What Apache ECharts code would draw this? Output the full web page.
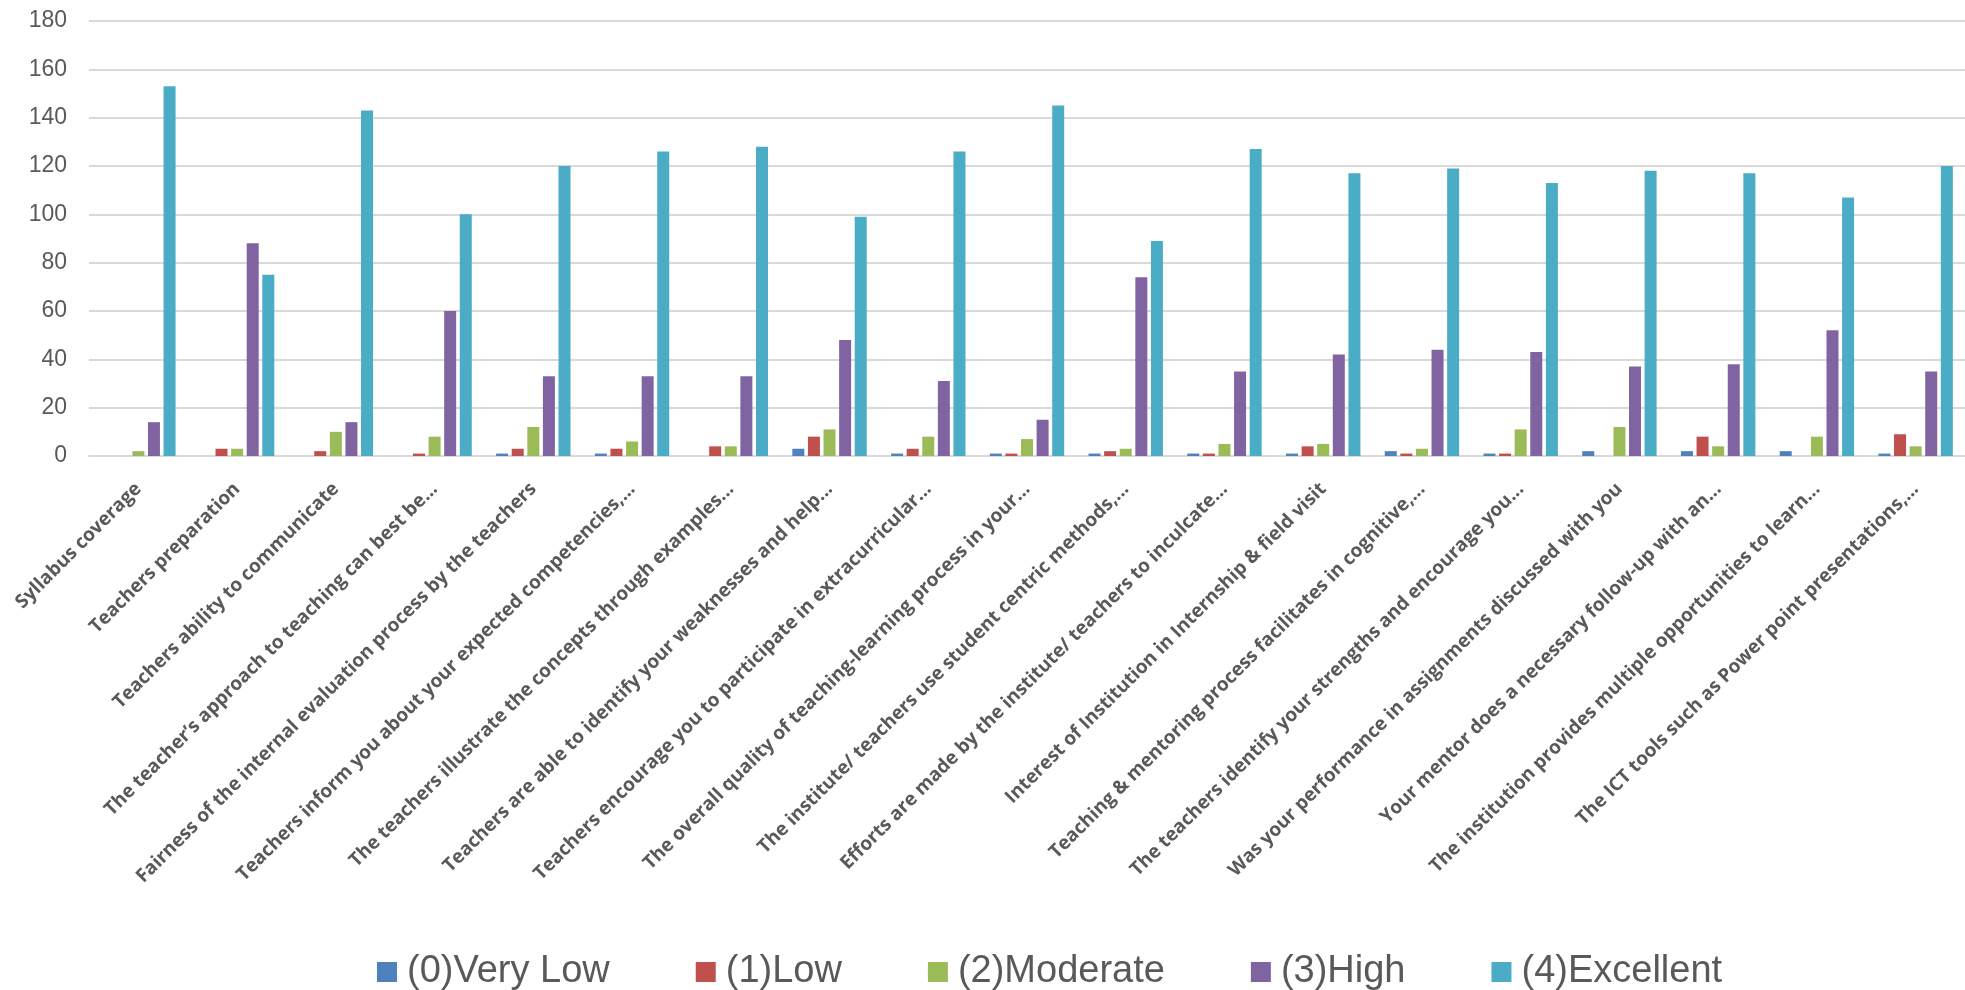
<!DOCTYPE html>
<html>
<head>
<meta charset="utf-8">
<script src="https://cdn.jsdelivr.net/npm/echarts@6/dist/echarts.min.js"></script>
<style>
html,body{margin:0;padding:0;background:#fff;}
#chart{width:1965px;height:990px;}
</style>
</head>
<body>
<div id="chart"></div>
<script>
const categories = [
  "Syllabus coverage",
  "Teachers preparation",
  "Teachers ability to communicate",
  "The teacher\u2019s approach to teaching can best be...",
  "Fairness of the internal evaluation process by the teachers",
  "Teachers inform you about your expected competencies,...",
  "The teachers illustrate the concepts through examples...",
  "Teachers are able to identify your weaknesses and help...",
  "Teachers encourage you to participate in extracurricular...",
  "The overall quality of teaching-learning process in your...",
  "The institute/ teachers use student centric methods,...",
  "Efforts are made by the institute/ teachers to inculcate...",
  "Interest of Institution in Internship & field visit",
  "Teaching & mentoring process facilitates in cognitive,...",
  "The teachers identify your strengths and encourage you...",
  "Was your performance in assignments discussed with you",
  "Your mentor does a necessary follow-up with an...",
  "The institution provides multiple opportunities to learn...",
  "The ICT tools such as Power point presentations,..."
];
const seriesNames = ["(0)Very Low", "(1)Low", "(2)Moderate", "(3)High", "(4)Excellent"];
const veryLow   = [0, 0, 0, 0, 1, 1, 0, 3, 1, 1, 1, 1, 1, 2, 1, 2, 2, 2, 1];
const low       = [0, 3, 2, 1, 3, 3, 4, 8, 3, 1, 2, 1, 4, 1, 1, 0, 8, 0, 9];
const moderate  = [2, 3, 10, 8, 12, 6, 4, 11, 8, 7, 3, 5, 5, 3, 11, 12, 4, 8, 4];
const high      = [14, 88, 14, 60, 33, 33, 33, 48, 31, 15, 74, 35, 42, 44, 43, 37, 38, 52, 35];
const excellent = [153, 75, 143, 100, 120, 126, 128, 99, 126, 145, 89, 127, 117, 119, 113, 118, 117, 107, 120];
const yTicks = [0, 20, 40, 60, 80, 100, 120, 140, 160, 180];

const colors = ["#4F81BD", "#C0504D", "#9BBB59", "#8064A2", "#4BACC6"];
const allData = [veryLow, low, moderate, high, excellent];

const chart = echarts.init(document.getElementById('chart'));
chart.setOption({
  animation: false,
  color: colors,
  grid: { left: 89, right: 0, top: 21, bottom: 534, containLabel: false },
  legend: {
    data: seriesNames,
    top: 948,
    left: 372,
    itemWidth: 20,
    itemHeight: 20,
    itemGap: 86,
    icon: 'rect',
    textStyle: { fontSize: 38, color: '#595959', fontFamily: 'Liberation Sans', padding: [0, 0, 0, 5] }
  },
  xAxis: {
    type: 'category',
    data: categories,
    axisTick: { show: false },
    axisLine: { lineStyle: { color: '#D9D9D9', width: 2 } },
    axisLabel: {
      interval: 0,
      rotate: 45,
      margin: 30,
      color: '#595959',
      fontSize: 19,
      fontWeight: 'bold',
      fontFamily: 'Open Sans'
    }
  },
  yAxis: {
    type: 'value',
    min: yTicks[0],
    max: yTicks[yTicks.length - 1],
    interval: yTicks[1] - yTicks[0],
    axisLine: { show: false },
    axisTick: { show: false },
    splitLine: { lineStyle: { color: '#D9D9D9', width: 2 } },
    axisLabel: { color: '#595959', fontSize: 23, fontFamily: 'Liberation Sans', margin: 22 }
  },
  series: seriesNames.map((n, i) => ({
    name: n,
    type: 'bar',
    data: allData[i],
    barWidth: 12,
    barGap: '30%',
    itemStyle: { color: colors[i] }
  }))
});
</script>
</body>
</html>
